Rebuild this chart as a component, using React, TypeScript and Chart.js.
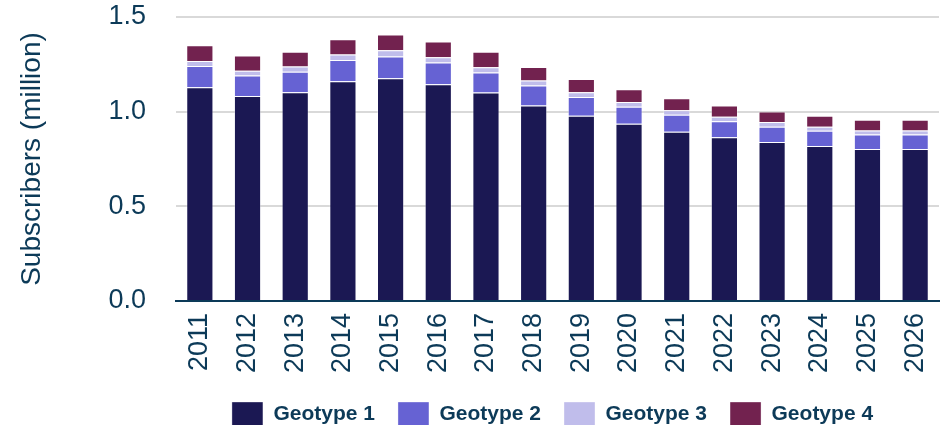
import React, { useEffect, useRef } from "react";
import { Chart, registerables } from "chart.js";

Chart.register(...registerables);

const years = ["2011","2012","2013","2014","2015","2016","2017","2018","2019","2020","2021","2022","2023","2024","2025","2026"];
const geotype1 = [1.129,1.083,1.103,1.160,1.177,1.145,1.101,1.032,0.979,0.936,0.894,0.865,0.840,0.819,0.803,0.803];
const geotype2 = [0.112,0.108,0.108,0.113,0.115,0.115,0.106,0.106,0.099,0.090,0.090,0.085,0.080,0.080,0.076,0.076];
const geotype3 = [0.027,0.025,0.027,0.029,0.032,0.028,0.028,0.027,0.024,0.025,0.023,0.023,0.025,0.021,0.021,0.021];
const geotype4 = [0.083,0.080,0.078,0.081,0.083,0.082,0.082,0.071,0.071,0.067,0.064,0.060,0.056,0.059,0.057,0.057];
const seriesNames = ["Geotype 1","Geotype 2","Geotype 3","Geotype 4"];
const seriesColors = ["#1b1853","#6662d3","#c0bdeb","#72224f"];

const textColor = "#0c3a58";
const fontFamily = "'Liberation Sans', Arial, sans-serif";

const centerLegendOnPlot = {
  id: "centerLegendOnPlot",
  afterLayout(chart: any) {
    const l = chart.legend;
    const ca = chart.chartArea;
    if (!l || !ca) return;
    const shift = (ca.left + ca.right) / 2 - (l.left + l.right) / 2 - 5;
    l.left += shift;
    l.right += shift;
  },
};

export default function App() {
  const ref = useRef<HTMLCanvasElement | null>(null);
  useEffect(() => {
    document.body.style.margin = "0";
    if (!ref.current) return;
    const values = [geotype1, geotype2, geotype3, geotype4];
    const chart = new Chart(ref.current, {
      type: "bar",
      data: {
        labels: years,
        datasets: values.map((d, i) => ({
          label: seriesNames[i],
          data: d,
          backgroundColor: seriesColors[i],
          borderColor: "rgba(255,255,255,0.35)",
          borderWidth: 1,
          barPercentage: 0.57,
          categoryPercentage: 1,
        })),
      },
      plugins: [centerLegendOnPlot],
      options: {
        responsive: false,
        animation: false,
        layout: { padding: { top: 0, right: 8, left: 0, bottom: -11 } },
        plugins: {
          tooltip: { enabled: false },
          legend: {
            position: "bottom",
            labels: {
              boxWidth: 31,
              boxHeight: 24,
              padding: 23,
              color: textColor,
              font: { family: fontFamily, size: 21, weight: "bold" },
            },
          },
        },
        scales: {
          x: {
            stacked: true,
            grid: { display: false, drawTicks: false },
            border: { color: textColor, width: 2 },
            ticks: {
              color: textColor,
              font: { family: fontFamily, size: 27 },
              minRotation: 90,
              maxRotation: 90,
              padding: 12,
            },
            afterFit: (scale: any) => {
              scale.height = 78;
              scale.paddingLeft = 0;
              scale.paddingRight = 0;
            },
          },
          y: {
            stacked: true,
            min: 0,
            max: 1.5,
            grid: { color: "#d9d9d9", lineWidth: 2, drawTicks: false },
            border: { display: false },
            ticks: {
              stepSize: 0.5,
              color: textColor,
              font: { family: fontFamily, size: 27 },
              padding: 30,
              callback: (v: any) => Number(v).toFixed(1),
            },
            title: {
              display: true,
              text: "Subscribers (million)",
              color: textColor,
              font: { family: fontFamily, size: 28 },
              padding: { top: 15, bottom: 0 },
            },
            afterFit: (scale: any) => {
              scale.width = 176;
              scale.paddingTop = 17;
              scale.paddingBottom = 0;
            },
          },
        },
      },
    });
    return () => chart.destroy();
  }, []);
  return (
    <div style={{ width: 947, height: 425 }}>
      <canvas ref={ref} width={947} height={425} />
    </div>
  );
}
